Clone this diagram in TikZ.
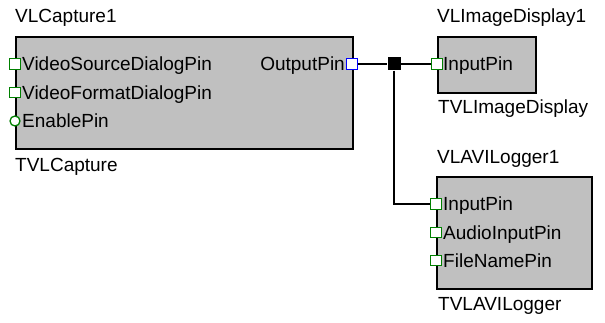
\documentclass[tikz,border=0pt]{standalone}
\usepackage{fontspec}
\setmainfont{Liberation Sans}
\usetikzlibrary{positioning}
\definecolor{boxgray}{HTML}{C0C0C0}
\definecolor{pingreen}{HTML}{008000}

\begin{document}
\begin{tikzpicture}[x=1pt, y=-1pt, font=\fontsize{19}{23}\selectfont,
  comp/.style={draw=black, line width=1.6pt, fill=boxgray, anchor=north west, inner sep=0pt},
  lbl/.style={anchor=base west, inner sep=0pt},
  inpin/.style={draw=pingreen, fill=white, line width=1.3pt, minimum size=10.5pt, inner sep=0pt},
  ctlpin/.style={inpin, circle, minimum size=10pt},
  outpin/.style={inpin, draw=blue},
  junct/.style={fill=black, minimum size=13pt, inner sep=0pt}]
  \useasboundingbox (0,0) rectangle (605,323);
  % Composant de capture
  \node[comp, minimum width=337pt, minimum height=112pt] (capture) at (15,36) {};
  \node[lbl] (capname) at (15,23) {VLCapture1};
  \node[lbl] (captype) at (15,172) {TVLCapture};
  \node[inpin] (srcpin) at (15,64) {};
  \node[inpin] (fmtpin) at (15,92.5) {};
  \node[ctlpin] (enpin) at (15,121) {};
  \node[lbl] (srctxt) at (22,71) {VideoSourceDialogPin};
  \node[lbl] (fmttxt) at (22,99.5) {VideoFormatDialogPin};
  \node[lbl] (entxt) at (22,128) {EnablePin};
  \node[outpin] (capout) at (352,64) {};
  \node[lbl, anchor=base east] (outtxt) at (345,71) {OutputPin};
  % Affichage d'image
  \node[comp, minimum width=98pt, minimum height=56pt] (display) at (437,36) {};
  \node[lbl] (dispname) at (437,23) {VLImageDisplay1};
  \node[lbl] (disptype) at (438,114) {TVLImageDisplay};
  \node[inpin] (dispin) at (437,64) {};
  \node[lbl] (disptxt) at (443,71) {InputPin};
  % Enregistreur AVI
  \node[comp, minimum width=155pt, minimum height=112pt] (logger) at (436,176) {};
  \node[lbl] (logname) at (437,164) {VLAVILogger1};
  \node[lbl] (logtype) at (438,310) {TVLAVILogger};
  \foreach \y/\n/\t in {204/login/InputPin, 232.5/audin/AudioInputPin, 260.5/filein/FileNamePin} {
    \node[inpin] (\n) at (436,\y) {};
    \node[lbl] (\n txt) at (443,\y+7) {\t};
  }
  % Connexions
  \node[junct] (split) at (394,64) {};
  \draw[line width=1.3pt] (capout) -- (split) -- (dispin);
  \draw[line width=1.3pt] (split) |- (login);
\end{tikzpicture}
\end{document}
